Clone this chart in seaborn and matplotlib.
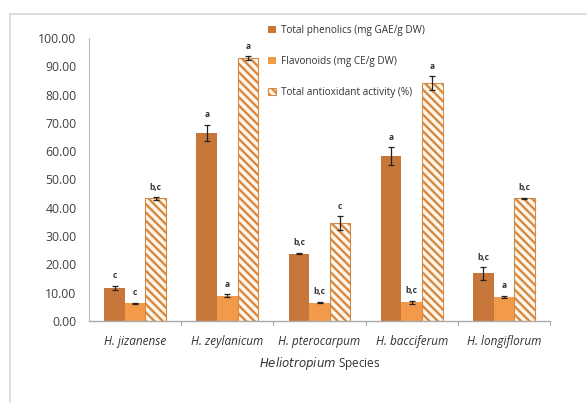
import matplotlib
matplotlib.use("Agg")
import matplotlib.pyplot as plt
import seaborn as sns
import pandas as pd
import numpy as np
from matplotlib.patches import Rectangle, Patch

species = ["H. jizanense", "H. zeylanicum", "H. pterocarpum", "H. bacciferum", "H. longiflorum"]
series = ["Total phenolics (mg GAE/g DW)", "Flavonoids (mg CE/g DW)", "Total antioxidant activity (%)"]
phenolics = [11.7, 66.5, 23.8, 58.2, 16.8]
flavonoids = [6.2, 9.0, 6.5, 6.6, 8.5]
antioxidant = [43.3, 92.8, 34.5, 84.0, 43.3]
phen_err = [0.8, 2.8, 0.2, 3.2, 2.2]
flav_err = [0.3, 0.4, 0.3, 0.5, 0.3]
anti_err = [0.4, 0.7, 2.5, 2.5, 0.3]
phen_sig = ["c", "a", "b,c", "a", "b,c"]
flav_sig = ["c", "a", "b,c", "b,c", "a"]
anti_sig = ["b,c", "a", "c", "a", "b,c"]
yticks = [0, 10, 20, 30, 40, 50, 60, 70, 80, 90, 100]

sns.set_style("white")
plt.rcParams['font.family'] = ['Open Sans', 'DejaVu Sans']
plt.rcParams['hatch.linewidth'] = 1.7

rows = []
vals = [phenolics, flavonoids, antioxidant]
errs = [phen_err, flav_err, anti_err]
sigs = [phen_sig, flav_sig, anti_sig]
for s, v in zip(series, vals):
    for sp, x in zip(species, v):
        rows.append({"Species": sp, "Series": s, "Value": x})
df = pd.DataFrame(rows)

c_phen = "#C8773A"
c_flav = "#F39A4A"
c_hatch = "#D48A45"
c_bg = "#FFF6EA"
palette = {series[0]: c_phen, series[1]: c_flav, series[2]: c_bg}
HATCH = "\\\\\\\\"

fig = plt.figure(figsize=(5.87, 4.03), dpi=100)
ax = fig.add_axes([89/587, 1-321/403, (550-89)/587, (321-38)/403])
sns.barplot(data=df, x="Species", y="Value", hue="Series", hue_order=series,
            order=species, palette=palette, errorbar=None, width=0.67,
            saturation=1, ax=ax, legend=False)

for hi, s in enumerate(series):
    cont = ax.containers[hi]
    for bi, bar in enumerate(cont):
        bar.set_linewidth(0)
        if hi == 2:
            bar.set_hatch(HATCH)
            bar.set_edgecolor(c_hatch)
            bar.set_linewidth(0.8)
        cx = bar.get_x() + bar.get_width() / 2
        h = bar.get_height()
        e = errs[hi][bi]
        ax.errorbar(cx, h, yerr=e, fmt="none", ecolor="#222222", elinewidth=0.9,
                    capsize=2.2, capthick=0.9, zorder=5)
        ax.text(cx, h + e + 2.0, sigs[hi][bi], ha="center", va="bottom",
                fontsize=6, fontweight="bold", color="#333333")

ax.set_ylim(0, 100)
ax.set_xlim(-0.5, 4.5)
ax.set_yticks(yticks)
ax.set_yticklabels([f"{t:.2f}" for t in yticks], fontsize=8.8, color="#404040")
ax.set_xticks(range(len(species)))
ax.set_xticklabels(species, fontsize=8.5, style="italic", color="#333333")
ax.tick_params(axis="x", length=0, pad=10)
ax.tick_params(axis="y", length=4, width=0.8, color="#BBBBBB", direction="out", pad=5)
for b in [0.5, 1.5, 2.5, 3.5, 4.5]:
    ax.plot([b, b], [0, -1.3], color="#AAAAAA", lw=0.8, clip_on=False)
for sp in ["top", "right"]:
    ax.spines[sp].set_visible(False)
ax.spines["left"].set_color("#BBBBBB")
ax.spines["bottom"].set_color("#AAAAAA")
ax.spines["left"].set_linewidth(0.8)
ax.spines["bottom"].set_linewidth(1.0)
ax.set_ylabel("")
ax.set_xlabel(r"$\it{Heliotropium}$ Species", fontsize=8.5, color="#333333", labelpad=5)

handles = [Patch(facecolor=c_phen, edgecolor="none"),
           Patch(facecolor=c_flav, edgecolor="none"),
           Patch(facecolor=c_bg, edgecolor=c_hatch, hatch=HATCH, linewidth=0.8)]
leg = fig.legend(handles, series, loc="upper left", bbox_to_anchor=(259/587, 1-16/403),
                 frameon=False, fontsize=7.2, labelspacing=2.0, handlelength=0.8,
                 handleheight=0.8, handletextpad=0.5, labelcolor="#333333")

fig.patches.append(Rectangle((10/587, -0.1), 1.2, 1-14/403+0.1, transform=fig.transFigure,
                             fill=False, edgecolor="#D8D8D8", linewidth=1.2, zorder=-1))

fig.savefig("out.png", dpi=100)
